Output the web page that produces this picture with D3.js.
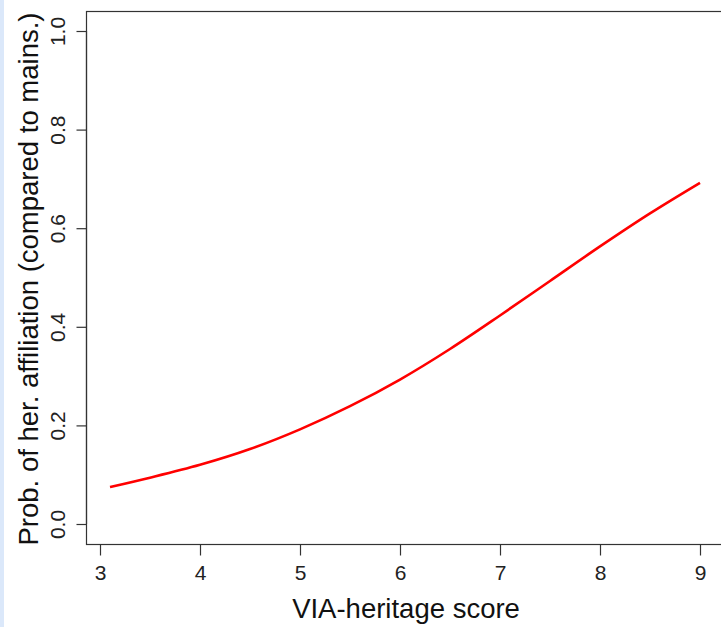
<!DOCTYPE html>
<html>
<head>
<meta charset="utf-8">
<script src="https://cdn.jsdelivr.net/npm/d3@7"></script>
<style>
  html, body { margin: 0; padding: 0; background: #fff; }
  svg { display: block; font-family: "Liberation Sans", Arial, Helvetica, sans-serif; }
</style>
</head>
<body>
<svg id="chart" width="721" height="627"></svg>
<script>
// Predicted probability of heritage affiliation by VIA-heritage score
const scores = [3.1, 3.5, 4, 4.5, 5, 5.5, 6, 6.5, 7, 7.5, 8, 8.5, 9];
const probs  = [0.075, 0.094, 0.12, 0.152, 0.192, 0.239, 0.293, 0.355, 0.423, 0.493, 0.563, 0.63, 0.692];
const xTicks = [3, 4, 5, 6, 7, 8, 9];
const yTicks = [0, 0.2, 0.4, 0.6, 0.8, 1.0];
const xTitle = "VIA-heritage score";
const yTitle = "Prob. of her. affiliation (compared to mains.)";

const svg = d3.select("#chart");
const W = 721, H = 627;

// side strip
svg.append("rect").attr("x", 0).attr("y", 0).attr("width", 4).attr("height", H).attr("fill", "#dbe8fa");

const box = { left: 86, top: 11, right: 724, bottom: 544 };
const x = d3.scaleLinear().domain([3, 9]).range([100, 700]);
const y = d3.scaleLinear().domain([0, 1]).range([524, 31]);

// plot frame
svg.append("rect")
  .attr("x", box.left + 0.5).attr("y", box.top + 0.5)
  .attr("width", box.right - box.left).attr("height", box.bottom - box.top)
  .attr("fill", "none").attr("stroke", "#333").attr("stroke-width", 1.2);

// x axis
const xAxis = svg.append("g").attr("transform", `translate(0,${box.bottom + 0.5})`)
  .call(d3.axisBottom(x).tickValues(xTicks).tickFormat(d3.format("d")).tickSize(11).tickPadding(10));
xAxis.selectAll("path, line").attr("stroke", "#333").attr("stroke-width", 1.2);
xAxis.select("path.domain").attr("d", `M${x(3)},0H${x(9)}`);
xAxis.selectAll("text").attr("font-size", 21).attr("fill", "#222").attr("font-family", "Liberation Sans, Arial, sans-serif");

// y axis
const yAxis = svg.append("g").attr("transform", `translate(${box.left + 0.5},0)`)
  .call(d3.axisLeft(y).tickValues(yTicks).tickFormat(d3.format(".1f")).tickSize(10).tickPadding(0));
yAxis.selectAll("path, line").attr("stroke", "#333").attr("stroke-width", 1.2);
yAxis.select("path.domain").attr("d", `M0,${y(0)}V${y(1)}`);
yAxis.selectAll("text")
  .attr("font-size", 21).attr("fill", "#222").attr("font-family", "Liberation Sans, Arial, sans-serif")
  .attr("text-anchor", "middle").attr("dy", 0).attr("x", null)
  .attr("transform", "translate(-22,0) rotate(-90)");

// curve
const line = d3.line().x((d, i) => x(scores[i])).y(d => y(d)).curve(d3.curveMonotoneX);
svg.append("path").attr("d", line(probs))
  .attr("fill", "none").attr("stroke", "#ff0000").attr("stroke-width", 2.6);

// axis titles
svg.append("text").attr("x", 406).attr("y", 618)
  .attr("text-anchor", "middle").attr("font-size", 27.5).attr("fill", "#111").text(xTitle);
svg.append("text").attr("transform", "translate(38,279) rotate(-90)")
  .attr("text-anchor", "middle").attr("font-size", 27.5).attr("fill", "#111").text(yTitle);
</script>
</body>
</html>
